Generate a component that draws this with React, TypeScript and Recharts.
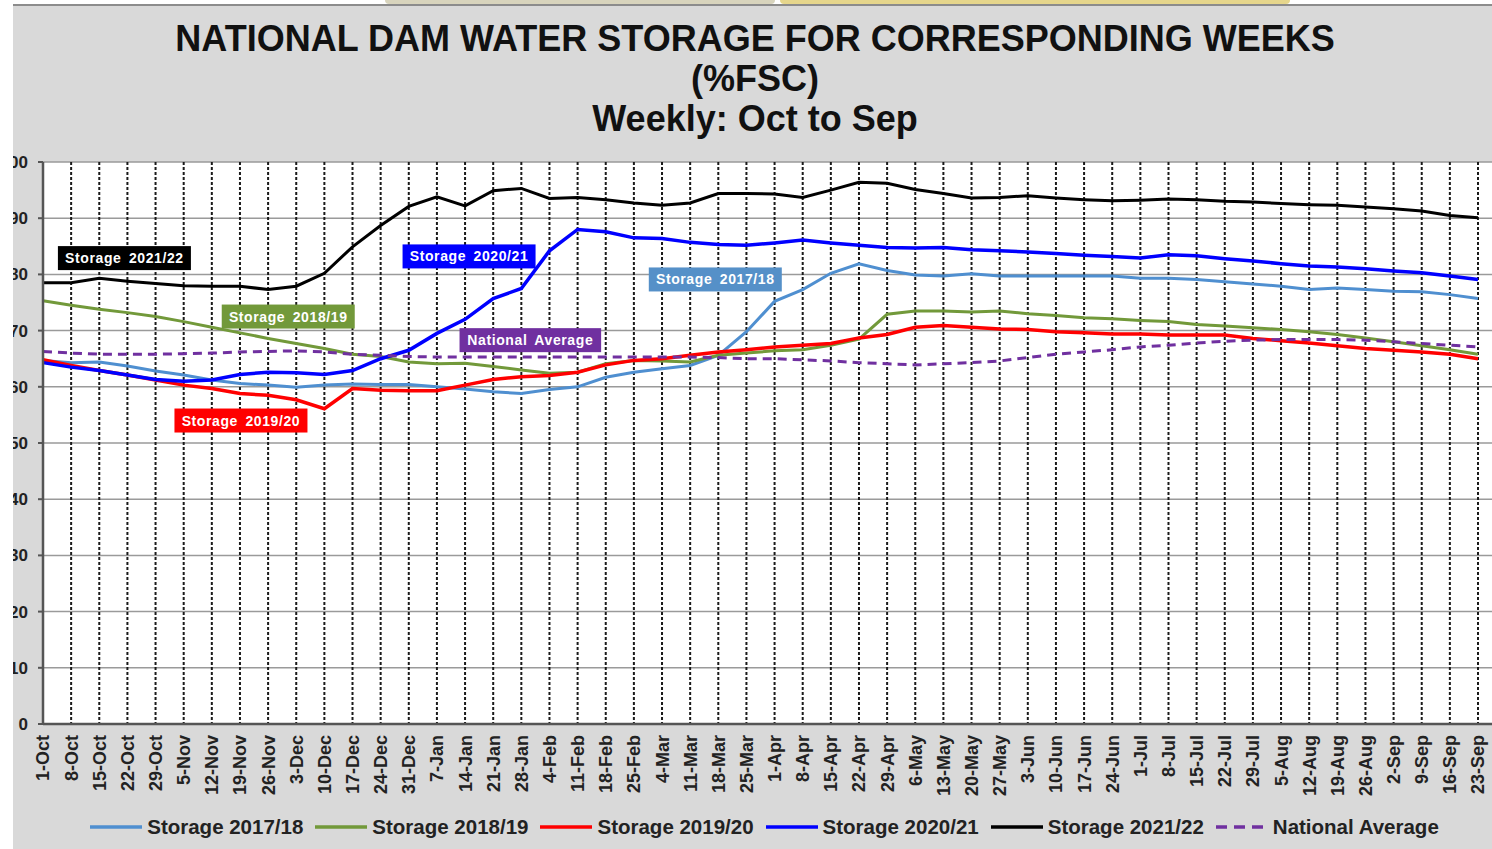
import { LineChart, Line, XAxis, YAxis, CartesianGrid, ReferenceDot } from "recharts";

const weeks = [
  "1-Oct", "8-Oct", "15-Oct", "22-Oct", "29-Oct", "5-Nov", "12-Nov", "19-Nov", "26-Nov",
  "3-Dec", "10-Dec", "17-Dec", "24-Dec", "31-Dec", "7-Jan", "14-Jan", "21-Jan", "28-Jan",
  "4-Feb", "11-Feb", "18-Feb", "25-Feb", "4-Mar", "11-Mar", "18-Mar", "25-Mar",
  "1-Apr", "8-Apr", "15-Apr", "22-Apr", "29-Apr", "6-May", "13-May", "20-May", "27-May",
  "3-Jun", "10-Jun", "17-Jun", "24-Jun", "1-Jul", "8-Jul", "15-Jul", "22-Jul", "29-Jul",
  "5-Aug", "12-Aug", "19-Aug", "26-Aug", "2-Sep", "9-Sep", "16-Sep", "23-Sep",
];

const storage2017 = [
  64.7, 64.3, 64.4, 63.7, 62.8, 62.1, 61.2, 60.6, 60.3, 59.9, 60.3, 60.5, 60.4,
  60.4, 60.0, 59.6, 59.1, 58.8, 59.5, 60.0, 61.7, 62.6, 63.2, 63.8, 65.6, 69.8,
  75.2, 77.3, 80.2, 81.9, 80.7, 79.9, 79.7, 80.1, 79.7, 79.7, 79.7, 79.7, 79.7,
  79.3, 79.3, 79.1, 78.7, 78.3, 77.9, 77.3, 77.6, 77.3, 77.0, 76.9, 76.4, 75.7,
];

const storage2018 = [
  75.3, 74.5, 73.8, 73.2, 72.5, 71.6, 70.6, 69.6, 68.6, 67.7, 66.8, 65.8, 65.4,
  64.4, 64.1, 64.2, 63.6, 63.0, 62.4, 62.6, 64.1, 64.7, 64.6, 64.4, 65.6, 66.0,
  66.4, 66.6, 67.4, 68.5, 72.9, 73.5, 73.5, 73.3, 73.5, 73.0, 72.7, 72.3, 72.1,
  71.8, 71.6, 71.1, 70.8, 70.5, 70.2, 69.8, 69.3, 68.7, 68.0, 67.3, 66.6, 65.8,
];

const storage2019 = [
  64.8, 63.8, 62.9, 62.1, 61.2, 60.3, 59.7, 58.8, 58.5, 57.7, 56.1, 59.7, 59.4,
  59.3, 59.3, 60.3, 61.3, 61.8, 62.0, 62.6, 63.9, 64.7, 65.0, 65.6, 66.2, 66.6,
  67.1, 67.4, 67.7, 68.7, 69.3, 70.6, 70.9, 70.6, 70.3, 70.2, 69.8, 69.6, 69.4,
  69.4, 69.2, 69.2, 69.2, 68.6, 68.2, 67.8, 67.3, 66.8, 66.5, 66.2, 65.8, 65.0,
];

const storage2020 = [
  64.3, 63.5, 62.9, 62.1, 61.3, 61.0, 61.2, 62.2, 62.6, 62.5, 62.2, 62.9, 65.0,
  66.5, 69.5, 72.0, 75.7, 77.5, 84.2, 88.0, 87.6, 86.5, 86.4, 85.7, 85.3, 85.2,
  85.6, 86.1, 85.6, 85.2, 84.8, 84.7, 84.8, 84.4, 84.2, 84.0, 83.7, 83.4, 83.2,
  82.9, 83.5, 83.3, 82.8, 82.4, 81.9, 81.5, 81.3, 81.0, 80.6, 80.3, 79.7, 79.1,
];

const storage2021 = [
  78.5, 78.5, 79.3, 78.8, 78.4, 78.0, 77.9, 77.9, 77.3, 77.9, 80.2, 84.9, 88.7,
  92.1, 93.8, 92.2, 94.9, 95.3, 93.5, 93.7, 93.3, 92.7, 92.3, 92.7, 94.4, 94.4,
  94.3, 93.7, 95.0, 96.4, 96.2, 95.1, 94.4, 93.6, 93.7, 94.0, 93.6, 93.3, 93.1,
  93.2, 93.4, 93.3, 93.0, 92.9, 92.6, 92.4, 92.3, 92.0, 91.7, 91.3, 90.5, 90.1,
];

const nationalAverage = [
  66.3, 66.0, 65.8, 65.8, 65.8, 65.9, 66.0, 66.2, 66.3, 66.4, 66.2, 65.8, 65.6,
  65.4, 65.3, 65.3, 65.3, 65.3, 65.3, 65.3, 65.3, 65.3, 65.3, 65.3, 65.2, 65.0,
  65.0, 64.8, 64.6, 64.3, 64.1, 63.9, 64.1, 64.3, 64.6, 65.2, 65.8, 66.2, 66.6,
  67.1, 67.4, 67.8, 68.1, 68.3, 68.4, 68.4, 68.4, 68.3, 68.0, 67.7, 67.4, 67.1,
];

const yTicks = [0, 10, 20, 30, 40, 50, 60, 70, 80, 90, 100];

const series = [
  { key: "s2017", name: "Storage 2017/18", color: "#4f8fd0", width: 3, dash: undefined },
  { key: "s2018", name: "Storage 2018/19", color: "#72993a", width: 3, dash: undefined },
  { key: "s2019", name: "Storage 2019/20", color: "#ff0000", width: 3.5, dash: undefined },
  { key: "s2020", name: "Storage 2020/21", color: "#0000ff", width: 3.5, dash: undefined },
  { key: "s2021", name: "Storage 2021/22", color: "#000000", width: 3, dash: undefined },
  { key: "avg", name: "National Average", color: "#7030a0", width: 3, dash: "9 6" },
];

// in-plot callout boxes, anchored to a week and a value
const callouts = [
  { text: "Storage 2021/22", week: "22-Oct", value: 82.9, dx: -3, color: "#000000" },
  { text: "Storage 2018/19", week: "3-Dec", value: 72.5, dx: -8, color: "#72993a" },
  { text: "Storage 2019/20", week: "19-Nov", value: 54.0, dx: 1, color: "#ff0000" },
  { text: "Storage 2020/21", week: "14-Jan", value: 83.2, dx: 4, color: "#0000ff" },
  { text: "National Average", week: "28-Jan", value: 68.3, dx: 9, color: "#7030a0" },
  { text: "Storage 2017/18", week: "18-Mar", value: 79.1, dx: -3, color: "#5590c8" },
];

const data = weeks.map((w, i) => ({
  week: w,
  s2017: storage2017[i],
  s2018: storage2018[i],
  s2019: storage2019[i],
  s2020: storage2020[i],
  s2021: storage2021[i],
  avg: nationalAverage[i],
}));

const FONT = "'Liberation Sans', Arial, sans-serif";

function WeekTick(props: any) {
  const { x, y, payload } = props;
  return (
    <g transform={`translate(${x},${y + 9}) rotate(-90)`}>
      <text x={0} y={0} dy="0.36em" textAnchor="end" fontFamily={FONT} fontWeight="bold" fontSize={18} fill="#222">
        {payload.value}
      </text>
    </g>
  );
}

function calloutShape(c: (typeof callouts)[number]) {
  return (props: any) => {
    const w = c.text.length * 8.6 + 4;
    const h = 24;
    const cx = props.cx + c.dx;
    const cy = props.cy;
    return (
      <g>
        <rect x={cx - w / 2} y={cy - h / 2} width={w} height={h} fill={c.color} />
        <text x={cx} y={cy} dy="0.36em" textAnchor="middle" fontFamily={FONT} fontWeight="bold" fontSize={14} fill="#fff" letterSpacing={0.6} wordSpacing={3}>
          {c.text}
        </text>
      </g>
    );
  };
}

export default function App() {
  return (
    <div style={{ position: "absolute", left: 0, top: 0, width: 1492, height: 849, background: "#fff", overflow: "hidden" }}>
      <div style={{ position: "absolute", left: 385, top: 0, width: 390, height: 4, background: "#d8d4bd", borderRadius: "0 0 10px 10px" }} />
      <div style={{ position: "absolute", left: 780, top: 0, width: 510, height: 4, background: "#e6d68c", borderRadius: "0 0 10px 10px" }} />
      <div style={{ position: "absolute", left: 13, top: 4, width: 1479, height: 845, background: "#d9d9d9", borderTop: "2px solid #8c8c8c", overflow: "hidden" }}>
        <div style={{ position: "absolute", left: 0, width: 1484, top: 13, textAlign: "center", fontFamily: FONT, fontWeight: "bold", fontSize: 36, lineHeight: "40px", color: "#111" }}>
          <div>NATIONAL DAM WATER STORAGE FOR CORRESPONDING WEEKS</div>
          <div>(%FSC)</div>
          <div>Weekly: Oct to Sep</div>
        </div>
        <div style={{ position: "absolute", left: -20, top: 0 }}>
          <LineChart width={1540} height={843} data={data} margin={{ top: 156, right: 0, bottom: 45, left: 0 }}>
            <CartesianGrid vertical={false} stroke="#9a9a9a" strokeWidth={1.5} fill="#ffffff" />
            <CartesianGrid horizontal={false} stroke="#1a1a1a" strokeWidth={2} strokeDasharray="3 2" />
            <XAxis
              dataKey="week"
              interval={0}
              padding={{ left: 0, right: 55 }}
              tick={<WeekTick />}
              tickLine={false}
              tickSize={0}
              height={80}
              axisLine={{ stroke: "#555", strokeWidth: 2.5 }}
            />
            <YAxis
              domain={[0, 100]}
              ticks={yTicks}
              width={50}
              tickSize={5}
              tickMargin={10}
              tickLine={{ stroke: "#555", strokeWidth: 2 }}
              axisLine={{ stroke: "#555", strokeWidth: 2.5 }}
              tick={{ fontFamily: FONT, fontWeight: "bold", fontSize: 17, fill: "#222" }}
            />
            {series.map((s) => (
              <Line
                key={s.key}
                type="linear"
                dataKey={s.key}
                name={s.name}
                stroke={s.color}
                strokeWidth={s.width}
                strokeDasharray={s.dash}
                dot={false}
                activeDot={false}
                isAnimationActive={false}
              />
            ))}
            {callouts.map((c) => (
              <ReferenceDot key={c.text} x={c.week} y={c.value} r={0} ifOverflow="visible" shape={calloutShape(c)} />
            ))}
          </LineChart>
        </div>
        <div style={{ position: "absolute", left: 0, width: 1502, top: 809, display: "flex", justifyContent: "center", gap: 11, fontFamily: FONT, fontWeight: "bold", fontSize: 20.5, color: "#222" }}>
          {series.map((s) => (
            <div key={s.key} style={{ display: "flex", alignItems: "center", gap: 4 }}>
              <svg width={54} height={8}>
                <line x1={1} y1={4} x2={53} y2={4} stroke={s.color} strokeWidth={3.5} strokeDasharray={s.dash ? "11 7" : undefined} />
              </svg>
              <span>{s.name}</span>
            </div>
          ))}
        </div>
      </div>
    </div>
  );
}
